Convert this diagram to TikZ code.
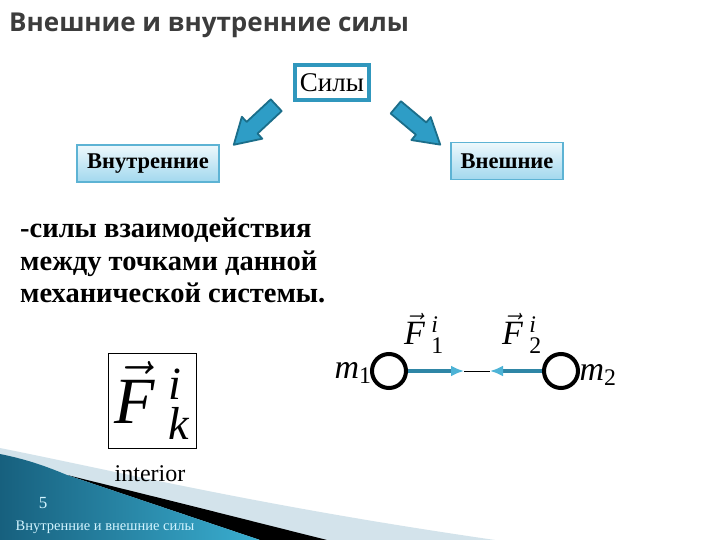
\RequirePackage{fix-cm}
\documentclass[tikz,border=0pt]{standalone}
\usepackage{fontspec}
\setmainfont{Liberation Serif}
\newfontfamily\titlefont{Open Sans}
\usetikzlibrary{arrows.meta}
\definecolor{titlegray}{HTML}{3C3C3C}
\definecolor{framecol}{HTML}{3097BD}
\definecolor{bigarrowfill}{HTML}{2E9DC6}
\definecolor{bigarrowline}{HTML}{1B6E8A}
\definecolor{boxtop}{HTML}{EDF8FC}
\definecolor{boxbot}{HTML}{A2D8EE}
\definecolor{boxline}{HTML}{5DB3D4}
\definecolor{forceline}{HTML}{2F86A6}
\definecolor{forcehead}{HTML}{4DB3D6}
\definecolor{wedgedark}{HTML}{17607E}
\definecolor{wedgelight}{HTML}{3AAED0}
\definecolor{lightband}{HTML}{D3E3EB}
\definecolor{footertext}{HTML}{D2F4FF}
\tikzset{
  kindbox/.style={draw=boxline, line width=1.2pt, top color=boxtop, bottom color=boxbot,
    font=\fontsize{22.5}{22.5}\selectfont\bfseries, inner sep=0pt, minimum height=37pt},
  bigarrow/.style={draw=bigarrowline, fill=bigarrowfill, line width=1.8pt, line join=round},
  mass/.style={circle, draw=black, line width=4pt, minimum size=34pt, inner sep=0pt},
  forcearrow/.style={draw=forceline, line width=3.5pt,
    -{Latex[length=13pt,width=11pt,color=forcehead]}},
  bodytext/.style={anchor=base west, inner sep=0pt, font=\fontsize{28.5}{33}\selectfont\bfseries},
  mathlabel/.style={inner sep=0pt, font=\fontsize{34}{34}\selectfont}
}
\begin{document}
\begin{tikzpicture}[x=1pt,y=-1pt]
\useasboundingbox (0,0) rectangle (720,540);
\fill[white] (0,0) rectangle (720,540);

% bottom-left wedge
\fill[lightband] (0,448) .. controls (120,472) and (260,506) .. (495,540) -- (0,540) -- cycle;
\fill[black] (67,475) -- (180,503) -- (327,540) -- (260,540) -- cycle;
\shade[left color=wedgedark, right color=wedgelight]
  (0,454) .. controls (30,460) and (50,468) .. (67,475) -- (260,540) -- (0,540) -- cycle;
\node[text=footertext, font=\fontsize{17}{17}\selectfont, inner sep=0pt] (pagenum) at (43,503) {5};
\node[text=footertext, font=\fontsize{14.5}{14.5}\selectfont, inner sep=0pt] (footer) at (105,527) {Внутренние и внешние силы};

% title
\node[anchor=base west, inner sep=0pt, text=titlegray, font=\titlefont\bfseries\fontsize{26}{26}\selectfont] (title) at (9,32) {Внешние и внутренние силы};

% top box
\node[draw=framecol, line width=3.5pt, minimum width=74pt, minimum height=35pt, inner sep=0pt,
  font=\fontsize{27}{27}\selectfont] (forces) at (332,82.5) {Силы};

% block arrows
\begin{scope}[shift={(255,125)}, rotate=223]
  \draw[bigarrow] (-29,-8) -- (4,-8) -- (4,-15) -- (29,0) -- (4,15) -- (4,8) -- (-29,8) -- cycle;
\end{scope}
\begin{scope}[shift={(418,126)}, rotate=-40]
  \draw[bigarrow] (-29,-8) -- (4,-8) -- (4,-15) -- (29,0) -- (4,15) -- (4,8) -- (-29,8) -- cycle;
\end{scope}

\node[kindbox, minimum width=142pt] (inner) at (148,163.5) {Внутренние};
\node[kindbox, minimum width=112pt] (outer) at (507,161) {Внешние};

% definition text
\node[bodytext] (line1) at (20,237) {-силы взаимодействия};
\node[bodytext] (line2) at (20,270) {между точками данной};
\node[bodytext] (line3) at (20,302) {механической системы.};

% symbol box
\node[draw=black, line width=0.8pt, minimum width=88pt, minimum height=95pt, inner sep=0pt,
  font=\fontsize{66}{66}\selectfont] (symbol) at (152,400.5)
  {$\vec{\mathit{F}}{}^{\;\mathit{i}}_{\;\mathit{k}}$};
\node[inner sep=0pt, font=\fontsize{24}{24}\selectfont, anchor=base] (interior) at (150,481) {interior};

% two masses
\node[mass] (m1c) at (389,371) {};
\node[mass] (m2c) at (561,371) {};
\node[mathlabel] (m1) at (353,373) {$\mathit{m}_{\mathrm{1}}$};
\node[mathlabel] (m2) at (598,375) {$\mathit{m}_{\mathrm{2}}$};
\coordinate (tip1) at (464,371);
\coordinate (tip2) at (490,371);
\draw[black, line width=0.7pt] (tip1) -- (tip2);
\draw[forcearrow] (m1c.east) -- (tip1);
\draw[forcearrow] (m2c.west) -- (tip2);
\node[mathlabel] (F1) at (424,333) {$\vec{\mathit{F}}{}^{\;\mathit{i}}_{\;\mathrm{1}}$};
\node[mathlabel] (F2) at (522,333) {$\vec{\mathit{F}}{}^{\;\mathit{i}}_{\;\mathrm{2}}$};
\end{tikzpicture}
\end{document}
